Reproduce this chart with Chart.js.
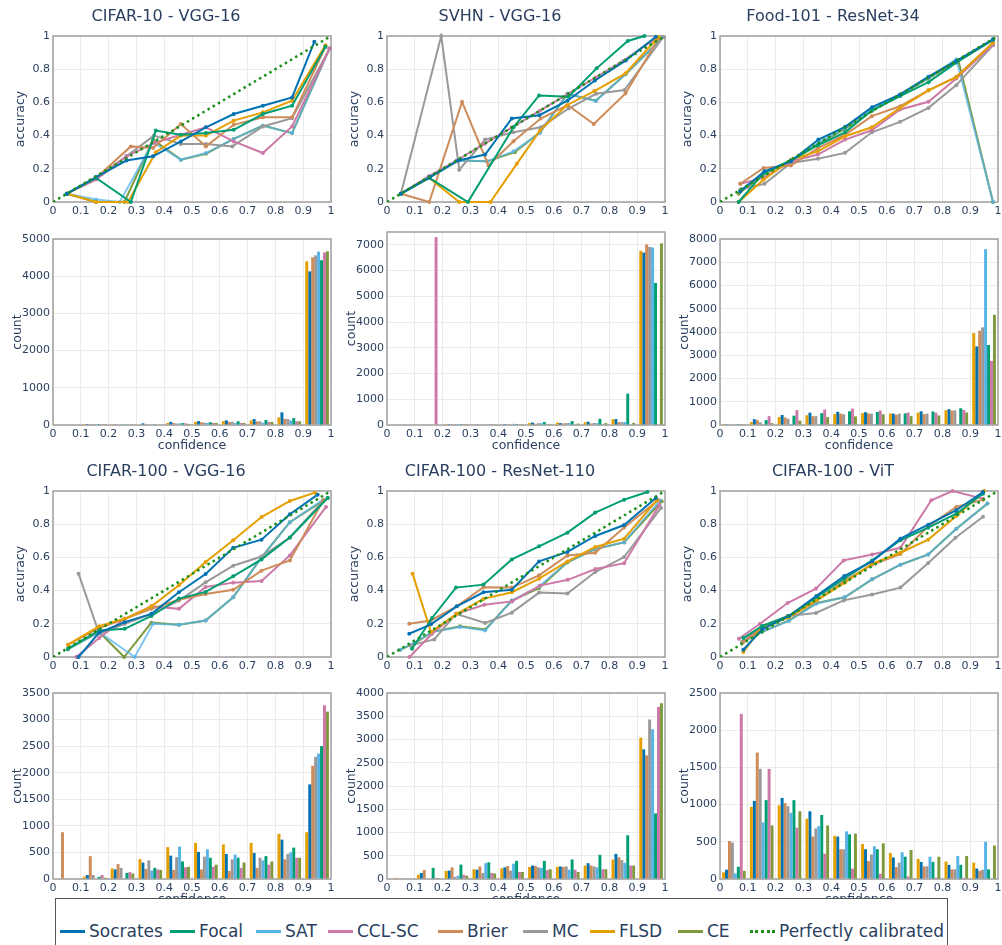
<!DOCTYPE html>
<html>
<head>
<meta charset="utf-8">
<script src="https://cdn.jsdelivr.net/npm/chart.js@4.4.1/dist/chart.umd.min.js"></script>
<style>
  body { margin:0; background:#fff; width:1002px; height:945px; overflow:hidden; position:relative; font-family:'DejaVu Sans', sans-serif; }
  canvas.pn { position:absolute; }
  #legend { position:absolute; left:55px; top:898px; width:893px; height:60px; border:1px solid #555; background:#fff; box-sizing:border-box; }
  #legend .it { position:absolute; top:20px; height:24px; display:flex; align-items:center; font-size:17px; color:#2a3f5f; white-space:nowrap; }
  #legend .sw { position:absolute; width:25px; height:0; border-top:3px solid; }
</style>
</head>
<body>
<div id="legend"></div>
<script>
// ---- data ----
const methods      = ['Socrates', 'Focal', 'SAT', 'CCL-SC', 'Brier', 'MC', 'FLSD', 'CE'];
const methodColors = ['#0072B2', '#009E73', '#56B4E9', '#CC79A7', '#CD8C5A', '#999999', '#E69F00', '#7D9B3C'];
const histOrder    = ['FLSD', 'Socrates', 'Brier', 'MC', 'SAT', 'Focal', 'CCL-SC', 'CE'];
const lineOrder    = ['Socrates', 'Focal', 'FLSD', 'Brier', 'CCL-SC', 'MC', 'SAT', 'CE'];
const binLabels    = ['0-0.1', '0.1-0.2', '0.2-0.3', '0.3-0.4', '0.4-0.5', '0.5-0.6', '0.6-0.7', '0.7-0.8', '0.8-0.9', '0.9-1'];
const diagonal     = [[0, 0], [1, 1]];

// reliability curves: [mean confidence, accuracy]
const relC10 = {
  Socrates: [[.05,.05],[.155,.15],[.264,.25],[.36,.275],[.46,.365],[.55,.45],[.65,.53],[.755,.58],[.86,.63],[.94,.965]],
  Focal:    [[.05,.05],[.155,.145],[.28,0],[.37,.43],[.46,.405],[.55,.415],[.65,.435],[.755,.53],[.86,.58],[.98,.935]],
  SAT:      [[.05,.05],[.155,.015],[.24,0],[.36,.36],[.46,.255],[.55,.295],[.65,.38],[.755,.46],[.86,.415],[.995,.925]],
  'CCL-SC': [[.05,.05],[.155,.135],[.264,.275],[.363,.355],[.46,.405],[.55,.45],[.65,.365],[.755,.295],[.86,.455],[.995,.925]],
  Brier:    [[.05,.05],[.155,.145],[.28,.335],[.36,.325],[.46,.47],[.55,.335],[.65,.465],[.755,.51],[.86,.51],[.98,.935]],
  MC:       [[.05,.05],[.155,.145],[.264,.275],[.363,.4],[.46,.35],[.55,.35],[.645,.335],[.755,.455],[.86,.505],[.995,.925]],
  FLSD:     [[.05,.05],[.155,0],[.27,0],[.37,.3],[.46,.4],[.55,.4],[.65,.49],[.755,.54],[.86,.61],[.98,.945]],
  CE:       [[.05,.05],[.155,0],[.257,0],[.36,.375],[.46,.255],[.55,.29],[.65,.38],[.755,.46],[.86,.415],[.995,.925]],
};
const relSVHN = {
  Socrates: [[.05,.05],[.155,.15],[.257,.25],[.353,.286],[.449,.503],[.548,.523],[.649,.61],[.748,.732],[.859,.853],[.967,.996]],
  Focal:    [[.05,.05],[.152,.145],[.291,0],[.455,.45],[.547,.642],[.653,.634],[.754,.805],[.866,.97],[.926,1]],
  SAT:      [[.05,.05],[.155,.15],[.257,.25],[.36,.245],[.455,.305],[.55,.415],[.649,.654],[.751,.608],[.858,.77],[.994,.994]],
  'CCL-SC': [[.05,.05],[.15,.155],[.25,.25],[.35,.35],[.45,.45],[.55,.55],[.65,.65],[.75,.75],[.85,.85],[.97,.99]],
  Brier:    [[.05,.05],[.152,0],[.27,.603],[.365,.22],[.455,.366],[.553,.503],[.65,.583],[.744,.47],[.858,.654],[.976,.984]],
  MC:       [[.05,.05],[.195,1],[.26,.195],[.353,.376],[.455,.42],[.553,.45],[.653,.563],[.752,.652],[.854,.674],[.994,.994]],
  FLSD:     [[.05,.05],[.152,.145],[.26,0],[.372,0],[.467,.23],[.55,.43],[.647,.583],[.746,.668],[.858,.775],[.976,.994]],
  CE:       [[.05,.05],[.155,.15],[.257,.25],[.36,.245],[.46,.3],[.55,.42],[.649,.65],[.751,.61],[.858,.77],[.994,.994]],
};
const relFood = {
  Socrates: [[.073,.064],[.16,.185],[.255,.245],[.354,.376],[.45,.453],[.547,.571],[.648,.648],[.75,.755],[.85,.85],[.982,.98]],
  Focal:    [[.067,0],[.157,.175],[.255,.25],[.352,.342],[.45,.42],[.546,.551],[.648,.638],[.75,.722],[.85,.84],[.982,.976]],
  SAT:      [[.073,.07],[.16,.175],[.255,.25],[.354,.356],[.45,.446],[.547,.557],[.648,.648],[.75,.748],[.85,.86],[.982,0]],
  'CCL-SC': [[.073,.11],[.157,.145],[.255,.245],[.352,.286],[.45,.376],[.546,.432],[.648,.557],[.75,.604],[.85,.744],[.982,.95]],
  Brier:    [[.073,.11],[.157,.205],[.255,.22],[.352,.325],[.45,.405],[.546,.517],[.648,.577],[.75,.673],[.85,.754],[.982,.96]],
  MC:       [[.073,.075],[.16,.11],[.255,.235],[.352,.26],[.45,.296],[.546,.42],[.648,.483],[.75,.567],[.85,.704],[.982,.944]],
  FLSD:     [[.067,0],[.157,.135],[.255,.255],[.352,.305],[.45,.396],[.546,.45],[.648,.567],[.75,.673],[.85,.752],[.982,.96]],
  CE:       [[.067,.05],[.16,.17],[.255,.25],[.354,.35],[.45,.44],[.547,.55],[.648,.645],[.75,.745],[.857,.855],[.982,0]],
};
const relC100VGG = {
  Socrates: [[.092,0],[.166,.147],[.258,.21],[.354,.26],[.453,.39],[.549,.5],[.648,.658],[.75,.707],[.852,.86],[.952,.978]],
  Focal:    [[.054,.05],[.166,.16],[.258,.17],[.354,.247],[.453,.352],[.549,.392],[.648,.486],[.75,.588],[.852,.72],[.988,.958]],
  SAT:      [[.054,.047],[.166,.15],[.294,0],[.36,.2],[.453,.195],[.549,.22],[.648,.36],[.75,.6],[.852,.812],[.972,.948]],
  'CCL-SC': [[.084,0],[.166,.115],[.258,.23],[.354,.305],[.453,.29],[.549,.422],[.648,.448],[.75,.458],[.852,.612],[.982,.904]],
  Brier:    [[.054,.074],[.166,.175],[.258,.23],[.354,.29],[.453,.345],[.549,.38],[.648,.405],[.75,.52],[.852,.582],[.972,.944]],
  MC:       [[.092,.502],[.166,.14],[.258,.2],[.354,.26],[.453,.34],[.549,.45],[.648,.55],[.75,.605],[.852,.72],[.972,.94]],
  FLSD:     [[.054,.074],[.166,.185],[.258,.23],[.354,.305],[.453,.432],[.549,.572],[.648,.703],[.75,.843],[.852,.94],[.942,.99]],
  CE:       [[.054,.047],[.166,.15],[.256,0],[.354,.207],[.453,.195],[.549,.22],[.648,.36],[.75,.6],[.852,.812],[.988,.958]],
};
const relC100R110 = {
  Socrates: [[.08,.14],[.158,.197],[.251,.305],[.347,.39],[.449,.405],[.547,.576],[.649,.633],[.749,.729],[.853,.795],[.967,.958]],
  Focal:    [[.09,.05],[.162,.235],[.248,.418],[.347,.436],[.449,.588],[.547,.667],[.649,.749],[.749,.87],[.853,.948],[.937,.994]],
  SAT:      [[.048,.044],[.098,.086],[.162,.15],[.263,.18],[.353,.16],[.449,.34],[.547,.425],[.649,.572],[.749,.652],[.853,.692],[.982,.944]],
  'CCL-SC': [[.081,0],[.162,.14],[.25,.26],[.35,.315],[.45,.335],[.55,.43],[.65,.465],[.75,.53],[.853,.565],[.98,.915]],
  Brier:    [[.08,.2],[.158,.22],[.251,.305],[.347,.42],[.449,.418],[.547,.492],[.649,.612],[.749,.628],[.853,.78],[.975,.944]],
  MC:       [[.084,.07],[.17,.106],[.248,.26],[.353,.205],[.449,.267],[.547,.388],[.649,.382],[.749,.512],[.853,.602],[.986,.898]],
  FLSD:     [[.092,.502],[.158,.15],[.251,.26],[.347,.35],[.449,.39],[.547,.472],[.649,.576],[.749,.663],[.853,.713],[.97,.944]],
  CE:       [[.048,.044],[.098,.08],[.162,.15],[.263,.185],[.353,.165],[.449,.34],[.547,.415],[.649,.57],[.749,.65],[.853,.69],[.988,.938]],
};
const relC100ViT = {
  Socrates: [[.084,.044],[.152,.167],[.248,.247],[.347,.368],[.447,.488],[.547,.576],[.649,.713],[.749,.797],[.85,.884],[.946,.994]],
  Focal:    [[.084,.114],[.152,.187],[.248,.247],[.347,.361],[.447,.472],[.547,.582],[.649,.703],[.749,.779],[.85,.863],[.946,.984]],
  SAT:      [[.08,.09],[.15,.15],[.248,.217],[.347,.321],[.449,.361],[.547,.468],[.649,.556],[.749,.618],[.85,.773],[.962,.924]],
  'CCL-SC': [[.068,.11],[.144,.2],[.243,.325],[.345,.412],[.445,.582],[.547,.618],[.649,.658],[.76,.944],[.836,1],[.946,.954]],
  Brier:    [[.084,.09],[.152,.175],[.248,.24],[.347,.34],[.447,.458],[.547,.556],[.649,.62],[.749,.787],[.85,.904],[.946,.948]],
  MC:       [[.08,.09],[.15,.185],[.243,.247],[.345,.265],[.445,.341],[.547,.377],[.649,.418],[.749,.566],[.847,.719],[.946,.845]],
  FLSD:     [[.084,.03],[.15,.18],[.248,.24],[.347,.34],[.449,.448],[.547,.562],[.649,.628],[.749,.707],[.85,.85],[.95,1]],
  CE:       [[.08,.09],[.15,.15],[.248,.22],[.347,.325],[.449,.36],[.547,.468],[.649,.556],[.749,.618],[.85,.773],[.962,.924]],
};

// histogram counts per confidence bin
const histC10 = {
  FLSD:     [0, 2, 5, 10, 55, 85, 105, 125, 205, 4400],
  Socrates: [0, 2, 8, 45, 85, 105, 125, 160, 340, 4130],
  Brier:    [0, 3, 10, 25, 55, 75, 85, 100, 165, 4510],
  MC:       [0, 2, 8, 15, 40, 60, 85, 95, 160, 4560],
  SAT:      [0, 2, 6, 15, 40, 55, 55, 60, 120, 4660],
  Focal:    [0, 2, 8, 20, 50, 75, 100, 135, 185, 4430],
  'CCL-SC': [0, 3, 10, 15, 45, 55, 55, 85, 100, 4640],
  CE:       [0, 2, 6, 10, 30, 55, 55, 85, 100, 4670],
};
const histSVHN = {
  FLSD:     [0, 0, 5, 10, 20, 75, 100, 110, 220, 6770],
  Socrates: [0, 0, 5, 25, 35, 95, 75, 130, 235, 6700],
  Brier:    [0, 0, 5, 15, 30, 50, 60, 60, 110, 7020],
  MC:       [0, 0, 5, 15, 30, 70, 75, 80, 110, 6920],
  SAT:      [0, 0, 5, 20, 45, 70, 75, 75, 115, 6900],
  Focal:    [0, 0, 5, 15, 35, 115, 150, 240, 1220, 5520],
  'CCL-SC': [0, 7300, 5, 5, 10, 15, 15, 20, 20, 0],
  CE:       [0, 0, 5, 10, 10, 35, 55, 75, 85, 7060],
};
const histFood = {
  FLSD:     [5, 130, 340, 420, 470, 510, 490, 530, 640, 3950],
  Socrates: [10, 250, 430, 530, 570, 550, 490, 590, 680, 3380],
  Brier:    [20, 220, 330, 380, 490, 500, 440, 470, 620, 4060],
  MC:       [20, 120, 270, 380, 460, 480, 490, 490, 630, 4200],
  SAT:      [5, 5, 5, 5, 5, 5, 5, 5, 5, 7560],
  Focal:    [10, 210, 400, 510, 590, 560, 500, 580, 720, 3440],
  'CCL-SC': [40, 380, 640, 660, 700, 620, 540, 530, 650, 2760],
  CE:       [10, 80, 190, 340, 370, 460, 380, 410, 540, 4740],
};
const histC100VGG = {
  FLSD:     [0, 45, 200, 375, 600, 680, 650, 680, 850, 880],
  Socrates: [0, 75, 180, 310, 440, 510, 470, 490, 740, 1780],
  Brier:    [880, 430, 280, 190, 170, 180, 150, 210, 370, 2130],
  MC:       [0, 75, 210, 350, 410, 420, 370, 400, 470, 2300],
  SAT:      [0, 0, 0, 160, 610, 560, 460, 350, 500, 2360],
  Focal:    [0, 40, 115, 210, 330, 400, 400, 430, 590, 2500],
  'CCL-SC': [10, 75, 130, 180, 220, 230, 210, 270, 400, 3270],
  CE:       [0, 25, 105, 170, 230, 270, 310, 330, 400, 3150],
};
const histC100R110 = {
  FLSD:     [0, 90, 175, 210, 230, 260, 260, 290, 420, 3040],
  Socrates: [0, 130, 180, 200, 250, 290, 270, 340, 540, 2790],
  Brier:    [25, 195, 250, 270, 280, 280, 260, 290, 470, 2660],
  MC:       [0, 0, 45, 130, 180, 250, 270, 270, 410, 3430],
  SAT:      [0, 0, 70, 340, 330, 240, 200, 250, 350, 3220],
  Focal:    [15, 240, 310, 360, 390, 390, 420, 520, 940, 1410],
  'CCL-SC': [0, 25, 90, 130, 150, 190, 200, 210, 290, 3700],
  CE:       [0, 20, 70, 120, 150, 210, 150, 210, 290, 3780],
};
const histC100ViT = {
  FLSD:     [90, 970, 990, 810, 580, 470, 350, 270, 235, 220],
  Socrates: [125, 1050, 1090, 910, 570, 400, 290, 230, 190, 140],
  Brier:    [510, 1700, 1020, 570, 400, 240, 160, 170, 130, 110],
  MC:       [490, 1480, 980, 680, 400, 330, 220, 170, 130, 125],
  SAT:      [75, 760, 890, 710, 640, 440, 360, 300, 310, 500],
  Focal:    [165, 1060, 1060, 860, 600, 400, 300, 230, 190, 130],
  'CCL-SC': [2220, 1480, 690, 340, 140, 70, 35, 20, 15, 0],
  CE:       [110, 720, 910, 720, 610, 480, 390, 300, 310, 450],
};

const relTitles = ['CIFAR-10 - VGG-16', 'SVHN - VGG-16', 'Food-101 - ResNet-34',
                   'CIFAR-100 - VGG-16', 'CIFAR-100 - ResNet-110', 'CIFAR-100 - ViT'];
const relSets   = [relC10, relSVHN, relFood, relC100VGG, relC100R110, relC100ViT];
const histSets  = [histC10, histSVHN, histFood, histC100VGG, histC100R110, histC100ViT];
const histMax   = [5000, 7500, 8000, 3500, 4000, 2500];
const histStep  = [1000, 1000, 1000, 500, 500, 500];

// ---- layout / style ----
const FONT = "'DejaVu Sans', sans-serif";
const TXT  = '#2a3f5f';
const GRID = '#ebebeb';
const colLeft = [53, 387, 720];
const plotW = 278;
const relTop  = [36, 491], relH = 166;
const histTop = [[239, 232, 239], [693, 693, 693]], histBottom = [425, 879];
const legendTextX = [88, 198, 284, 356, 466, 551, 618, 706, 778];

const colorOf = m => methodColors[methods.indexOf(m)];

const frame = {
  id: 'frame',
  beforeDatasetsDraw(chart) {
    const { ctx, chartArea: a } = chart;
    ctx.save();
    ctx.strokeStyle = '#a0a0a0';
    ctx.lineWidth = 1.5;
    ctx.strokeRect(a.left, a.top, a.right - a.left, a.bottom - a.top);
    ctx.restore();
  }
};

function place(left, top, w, h) {
  const cv = document.createElement('canvas');
  cv.className = 'pn';
  cv.width = w; cv.height = h;
  cv.style.left = left + 'px'; cv.style.top = top + 'px';
  document.body.insertBefore(cv, document.getElementById('legend'));
  return cv;
}

const tickFont  = { family: FONT, size: 11 };
const titleFont = { family: FONT, size: 12.5 };
const fmt = v => String(+Number(v).toFixed(2));
const unitTicks = () => Array.from({ length: 11 }, (_, k) => ({ value: k / 10 }));

function xAxis(extra) {
  return Object.assign({
    type: 'linear', position: 'bottom', min: 0, max: 1, offset: false,
    afterBuildTicks(s) { s.ticks = unitTicks(); },
    ticks: { color: TXT, font: tickFont, padding: 3, maxRotation: 0, autoSkip: false, callback: fmt },
    grid: { color: GRID, drawTicks: false, offset: false }, border: { display: false },
  }, extra);
}

function relChart(i) {
  const L = colLeft[i % 3], T = relTop[Math.floor(i / 3)];
  const cv = place(L - 52, T - 36, plotW + 64, relH + 60);
  const series = relSets[i];
  const datasets = [{
    label: 'Perfectly calibrated',
    data: diagonal.map(([x, y]) => ({ x, y })),
    borderColor: '#1a8f1a', borderWidth: 2.5, borderDash: [2.5, 3.5], pointRadius: 0,
  }].concat(lineOrder.map(m => ({
    label: m,
    data: series[m].map(([x, y]) => ({ x, y })),
    borderColor: m === 'SAT' ? 'rgba(86,180,233,0.75)' : colorOf(m),
    backgroundColor: m === 'SAT' ? 'rgba(86,180,233,0.75)' : colorOf(m),
    borderWidth: 2, pointRadius: 2, pointBorderWidth: 0, clip: 3,
  })));

  new Chart(cv, {
    type: 'line',
    data: { datasets },
    options: {
      responsive: false, animation: false, events: [],
      layout: { padding: { left: 0, right: 12, top: 0, bottom: 0 } },
      plugins: {
        legend: { display: false }, tooltip: { enabled: false },
        title: { display: true, text: relTitles[i], color: TXT,
                 font: { family: FONT, size: 16, weight: 'normal' }, padding: { top: 7.4, bottom: 9.4 } },
      },
      scales: {
        x: xAxis({ afterFit(s) { s.height = 24; } }),
        y: { type: 'linear', min: 0, max: 1,
             ticks: { stepSize: 0.2, color: TXT, font: tickFont, padding: 3, callback: fmt },
             grid: { color: GRID, drawTicks: false }, border: { display: false },
             title: { display: true, text: 'accuracy', color: TXT, font: titleFont, padding: { top: 12.5, bottom: 0 } },
             afterFit(s) { s.width = 52; } },
      },
    },
    plugins: [frame],
  });
}

function histChart(i) {
  const row = Math.floor(i / 3);
  const L = colLeft[i % 3], T = histTop[row][i % 3], B = histBottom[row];
  const cv = place(L - 52, T - 10, plotW + 64, (B - T) + 38);
  const counts = histSets[i];
  const step = histStep[i], ymax = histMax[i];

  new Chart(cv, {
    type: 'bar',
    data: {
      labels: binLabels,
      datasets: histOrder.map(m => ({
        label: m, data: counts[m], backgroundColor: colorOf(m), borderWidth: 0,
        categoryPercentage: 0.85, barPercentage: 1,
      })),
    },
    options: {
      responsive: false, animation: false, events: [],
      layout: { padding: { left: 0, right: 12, top: 10, bottom: 0 } },
      plugins: { legend: { display: false }, tooltip: { enabled: false } },
      scales: {
        x: { type: 'category', display: false, offset: true },
        xt: xAxis({
          title: { display: true, text: 'confidence', color: TXT, font: titleFont, padding: { top: 0, bottom: 0 } },
          afterFit(s) { s.height = 28; },
        }),
        y: { type: 'linear', min: 0, max: ymax,
             afterBuildTicks(s) {
               const t = [];
               for (let v = 0; v <= ymax; v += step) t.push({ value: v });
               s.ticks = t;
             },
             ticks: { color: TXT, font: tickFont, padding: 3, autoSkip: false, callback: v => String(v) },
             grid: { color: GRID, drawTicks: false }, border: { display: false },
             title: { display: true, text: 'count', color: TXT, font: titleFont, padding: { top: 9.5, bottom: 0 } },
             afterFit(s) { s.width = 52; } },
      },
    },
    plugins: [frame],
  });
}

for (let i = 0; i < 6; i++) { relChart(i); histChart(i); }

// ---- legend ----
const legend = document.getElementById('legend');
methods.concat(['Perfectly calibrated']).forEach((m, k) => {
  const x = legendTextX[k] - 55;
  const sw = document.createElement('div');
  sw.className = 'sw';
  sw.style.left = (x - 29) + 'px';
  sw.style.top = '31px';
  if (k < methods.length) sw.style.borderTopColor = methodColors[k];
  else sw.style.borderTop = '3px dotted #1a8f1a';
  const it = document.createElement('div');
  it.className = 'it';
  it.style.left = x + 'px';
  it.textContent = m;
  legend.appendChild(sw);
  legend.appendChild(it);
});
</script>
</body>
</html>
